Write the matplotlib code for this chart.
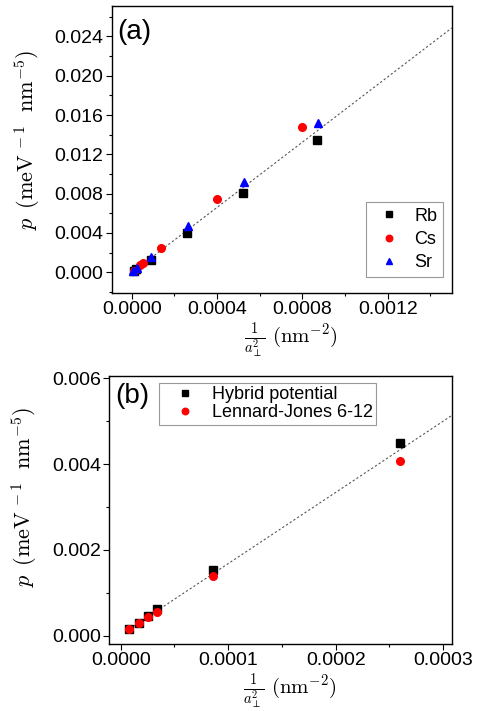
import matplotlib
matplotlib.use("Agg")
import numpy as np
import matplotlib.pyplot as plt
from matplotlib.ticker import MultipleLocator

plt.rcParams["font.family"] = ["Liberation Sans", "DejaVu Sans"]
plt.rcParams["mathtext.fontset"] = "cm"

# panel (a): different atoms
rb_x = [0.00001, 0.000022, 0.000089, 0.00026, 0.00052, 0.000867]
rb_y = [0.00015, 0.00035, 0.00128, 0.00403, 0.0081, 0.01347]
cs_x = [0.000012, 0.000039, 0.0000515, 0.000136, 0.0004, 0.000796]
cs_y = [0.0001, 0.00072, 0.00098, 0.00244, 0.00746, 0.01482]
sr_x = [0.000008, 0.000023, 0.000089, 0.000265, 0.000526, 0.000874]
sr_y = [0.00015, 0.00045, 0.00157, 0.00471, 0.00922, 0.01523]

# panel (b): two potentials
pot_x = [0.000008, 0.000017, 0.0000257, 0.000034, 0.0000862, 0.00026]
hybrid_y = [0.00016, 0.0003, 0.00047, 0.00062, 0.00152, 0.0045]
lj_y = [0.00015, 0.00029, 0.00043, 0.00055, 0.00138, 0.00408]

# linear fit p = slope * x + b
slope = 16.6
fit_a = (-0.00001, 0.0015, -0.00004)
fit_b = (0.0000056, 0.00031, 0.00002)

xlabel = r"$\frac{1}{a_{\perp}^{2}}\ (\mathrm{nm}^{-2})$"
ylabel = r"$p\ \,(\mathrm{meV}^{\,-1}\ \ \mathrm{nm}^{-5})$"

fig = plt.figure(figsize=(4.79, 7.11), dpi=100)
ax1 = fig.add_axes([0.2332, 0.5883, 0.7098, 0.4037])
ax2 = fig.add_axes([0.2282, 0.0942, 0.7161, 0.3774])

ms = 5.5
line_kw = dict(color="#555555", lw=0.8, ls=(0, (2, 2)), zorder=1)

xs = np.array(fit_a[:2])
ax1.plot(xs, slope * xs + fit_a[2], **line_kw)
ax1.plot(rb_x, rb_y, "s", color="black", ms=ms, ls="none", label="Rb")
ax1.plot(cs_x, cs_y, "o", color="red", ms=ms, ls="none", label="Cs")
ax1.plot(sr_x, sr_y, "^", color="blue", ms=ms, ls="none", label="Sr")
ax1.set_xlim(-0.0000937, 0.0015)
ax1.set_ylim(-0.00208, 0.02713)
ax1.xaxis.set_major_locator(MultipleLocator(0.0004))
ax1.xaxis.set_minor_locator(MultipleLocator(0.0002))
ax1.yaxis.set_major_locator(MultipleLocator(0.004))
ax1.yaxis.set_minor_locator(MultipleLocator(0.002))
ax1.xaxis.set_major_formatter(lambda v, p: f"{v:.4f}")
ax1.yaxis.set_major_formatter(lambda v, p: f"{v:.3f}")
ax1.text(0.015, 0.955, "(a)", transform=ax1.transAxes, fontsize=20, va="top")
leg = ax1.legend(loc="lower right", bbox_to_anchor=(0.9735, 0.0557), fontsize=13,
                 frameon=True, fancybox=False, edgecolor="#808080",
                 borderaxespad=0.0, handlelength=2.0, handletextpad=0.4,
                 labelspacing=0.35, borderpad=0.3, markerscale=0.85)
leg.get_frame().set_linewidth(0.8)

xs = np.array(fit_b[:2])
ax2.plot(xs, slope * xs + fit_b[2], **line_kw)
ax2.plot(pot_x, hybrid_y, "s", color="black", ms=ms, ls="none", label="Hybrid potential")
ax2.plot(pot_x, lj_y, "o", color="red", ms=ms, ls="none", label="Lennard-Jones 6-12")
ax2.set_xlim(-0.0000106, 0.0003085)
ax2.set_ylim(-0.000194, 0.00606)
ax2.xaxis.set_major_locator(MultipleLocator(0.0001))
ax2.xaxis.set_minor_locator(MultipleLocator(0.00005))
ax2.yaxis.set_major_locator(MultipleLocator(0.002))
ax2.yaxis.set_minor_locator(MultipleLocator(0.001))
ax2.xaxis.set_major_formatter(lambda v, p: f"{v:.4f}")
ax2.yaxis.set_major_formatter(lambda v, p: f"{v:.3f}")
ax2.text(0.016, 0.972, "(b)", transform=ax2.transAxes, fontsize=20, va="top")
leg = ax2.legend(loc="upper left", bbox_to_anchor=(0.1458, 0.974), fontsize=13,
                 frameon=True, fancybox=False, edgecolor="#808080",
                 borderaxespad=0.0, handlelength=2.5, handletextpad=0.2,
                 labelspacing=0.05, borderpad=0.2, markerscale=0.85)
leg.get_frame().set_linewidth(0.8)

# how far (px) the labels sit off the axes centre in the original
label_shift = {ax1: (9, 9), ax2: (9, 13)}

for ax in (ax1, ax2):
    ax.tick_params(which="both", direction="out", labelsize=14)
    ax.tick_params(which="major", length=4, width=0.8, pad=2)
    ax.tick_params(which="minor", length=2.5, width=0.8)
    for s in ax.spines.values():
        s.set_linewidth(1.0)
    ax.set_xlabel(xlabel, fontsize=15, labelpad=2)
    ax.set_ylabel(ylabel, fontsize=16, labelpad=9)
    pos = ax.get_position()
    w = pos.width * fig.get_figwidth() * fig.dpi
    h = pos.height * fig.get_figheight() * fig.dpi
    dx, dy = label_shift[ax]
    ax.xaxis.label.set_x(0.5 + dx / w)
    ax.yaxis.label.set_y(0.5 + dy / h)

fig.savefig("out.png", dpi=100)
